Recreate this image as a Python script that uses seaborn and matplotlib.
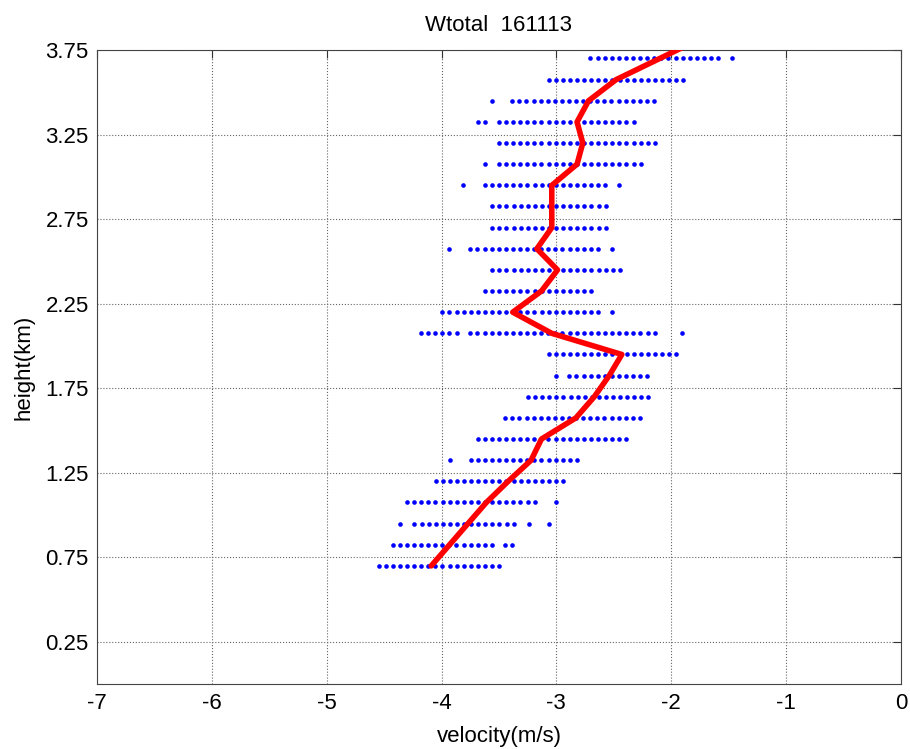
import numpy as np
import pandas as pd
import seaborn as sns
import matplotlib
matplotlib.use('Agg')
import matplotlib.pyplot as plt

# velocity bins in each height gate are spaced ~0.0617 m/s apart
DV = 0.0617

# height gates (km) of the blue samples
heights = [3.70, 3.575, 3.45, 3.325, 3.20, 3.075, 2.95, 2.825, 2.70, 2.575,
           2.45, 2.325, 2.20, 2.075, 1.95, 1.825, 1.70, 1.575, 1.45, 1.325,
           1.20, 1.075, 0.95, 0.825, 0.70]

# runs of samples per gate: (first velocity, number of bins)
runs = [
    [(-2.703, 19), (-1.474, 1)],
    [(-3.067, 20)],
    [(-3.560, 1), (-3.384, 21)],
    [(-3.683, 2), (-3.500, 20)],
    [(-3.500, 23)],
    [(-3.622, 1), (-3.500, 21)],
    [(-3.809, 1), (-3.622, 18), (-2.454, 1)],
    [(-3.558, 17)],
    [(-3.558, 17)],
    [(-3.931, 1), (-3.749, 19), (-2.513, 1)],
    [(-3.558, 19)],
    [(-3.622, 16)],
    [(-3.993, 23), (-2.512, 1)],
    [(-4.178, 6), (-3.749, 27), (-1.905, 1)],
    [(-3.067, 19)],
    [(-3.006, 1), (-2.887, 12)],
    [(-3.247, 18)],
    [(-3.445, 20)],
    [(-3.686, 22)],
    [(-3.930, 1), (-3.747, 16)],
    [(-4.052, 19)],
    [(-4.300, 19), (-3.000, 1)],
    [(-4.360, 1), (-4.236, 15), (-3.242, 1), (-3.064, 1)],
    [(-4.425, 15), (-3.445, 1), (-3.384, 1)],
    [(-4.547, 18)],
]

# mean profile (red line)
mean_h = [3.825, 3.70, 3.575, 3.45, 3.325, 3.20, 3.075, 2.95, 2.825, 2.70,
          2.575, 2.45, 2.325, 2.20, 2.075, 1.95, 1.825, 1.70, 1.575, 1.45,
          1.325, 1.20, 1.075, 0.95, 0.825, 0.70]
mean_v = [-1.72, -2.10, -2.48, -2.72, -2.82, -2.77, -2.82, -3.04, -3.04, -3.04,
          -3.17, -2.99, -3.13, -3.38, -3.04, -2.43, -2.54, -2.67, -2.83, -3.13,
          -3.22, -3.42, -3.61, -3.77, -3.93, -4.09]

pts = []
for h, rr in zip(heights, runs):
    for v0, n in rr:
        for k in range(n):
            pts.append((v0 + k * DV, h))
dots = pd.DataFrame(pts, columns=['velocity', 'height'])
prof = pd.DataFrame({'velocity': mean_v, 'height': mean_h})

sns.set_style('white')
plt.rcParams['font.family'] = ['Liberation Sans', 'DejaVu Sans']
plt.rcParams['text.color'] = 'black'
plt.rcParams['axes.labelcolor'] = 'black'

fig = plt.figure(figsize=(9.1, 7.49), dpi=100)
ax = fig.add_axes([0.1066, 0.0864, 0.8834, 0.8468])

sns.scatterplot(data=dots, x='velocity', y='height', ax=ax, color='blue',
                marker='o', s=11, linewidth=0, zorder=2)
sns.lineplot(data=prof, x='velocity', y='height', ax=ax, sort=False,
             estimator=None, color='red', linewidth=4, zorder=3)

ax.set_xlim(-7, 0)
ax.set_ylim(0, 3.75)
ax.set_xticks(np.arange(-7, 1, 1))
ax.set_yticks([0.25, 0.75, 1.25, 1.75, 2.25, 2.75, 3.25, 3.75])
ax.set_xticklabels(['-7', '-6', '-5', '-4', '-3', '-2', '-1', '0'])
ax.set_yticklabels(['0.25', '0.75', '1.25', '1.75', '2.25', '2.75', '3.25', '3.75'])
ax.grid(True, linestyle=':', color='#666666', linewidth=0.8)
ax.set_axisbelow(True)
ax.tick_params(direction='in', length=6, width=0.8, labelsize=16,
               top=True, right=True, colors='#333333', labelcolor='black', pad=6)
for s in ax.spines.values():
    s.set_visible(True)
    s.set_color('#444444')
    s.set_linewidth(0.8)

ax.set_xlabel('velocity(m/s)', fontsize=16, labelpad=9)
ax.set_ylabel('height(km)', fontsize=16, labelpad=8)
ax.set_title('Wtotal  161113', fontsize=16, pad=14)

fig.savefig('out.png', dpi=100)
